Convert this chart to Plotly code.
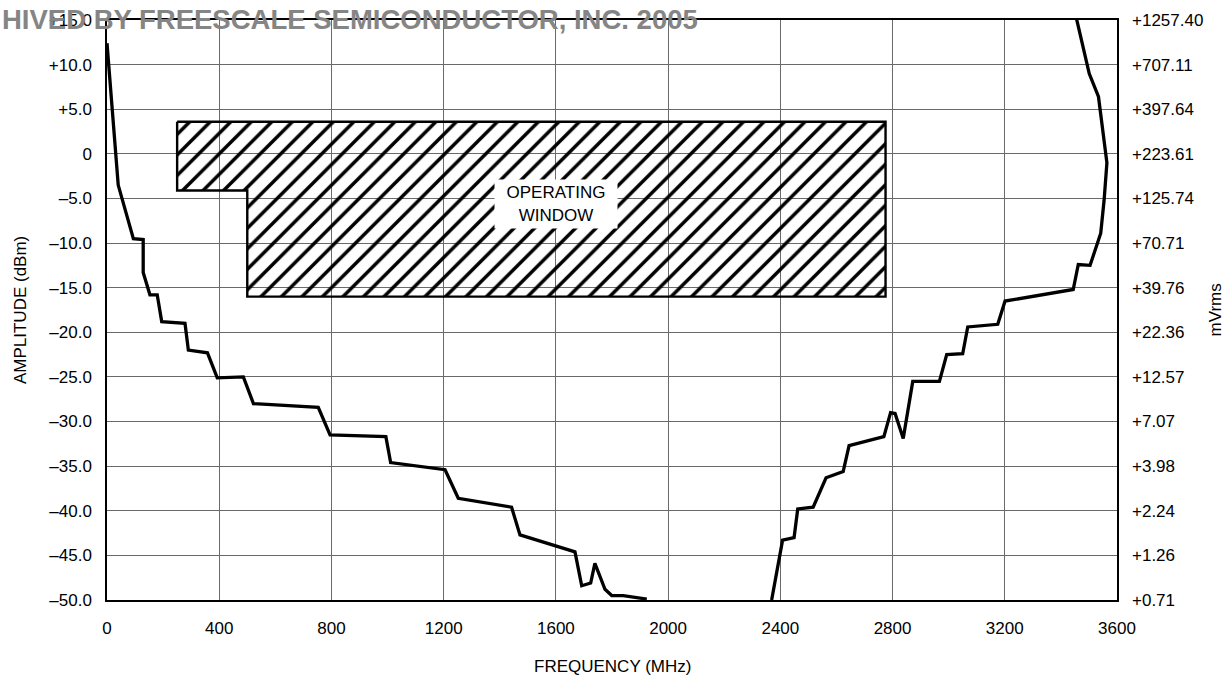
import plotly.graph_objects as go

# ---- data ----
freq_ticks = [0, 400, 800, 1200, 1600, 2000, 2400, 2800, 3200, 3600]
dbm_ticks = [15, 10, 5, 0, -5, -10, -15, -20, -25, -30, -35, -40, -45, -50]
dbm_labels = ["+15.0", "+10.0", "+5.0", "0", "–5.0", "–10.0", "–15.0", "–20.0",
              "–25.0", "–30.0", "–35.0", "–40.0", "–45.0", "–50.0"]
mv_labels = ["+1257.40", "+707.11", "+397.64", "+223.61", "+125.74", "+70.71",
             "+39.76", "+22.36", "+12.57", "+7.07", "+3.98", "+2.24", "+1.26", "+0.71"]

low_freq = [0, 40, 94, 129, 129, 153, 179, 195, 278, 290, 358, 393, 486, 522, 753,
            795, 994, 1011, 1205, 1252, 1442, 1472, 1668, 1692, 1724, 1739, 1775,
            1799, 1840, 1924]
low_dbm = [12.4, -3.5, -9.5, -9.6, -13.3, -15.8, -15.8, -18.8, -19.0, -22.0, -22.3,
           -25.1, -25.0, -28.0, -28.4, -31.5, -31.7, -34.6, -35.4, -38.6, -39.6,
           -42.7, -44.6, -48.4, -48.1, -45.9, -48.8, -49.5, -49.5, -49.9]

high_freq = [2369, 2408, 2449, 2462, 2517, 2563, 2624, 2645, 2769, 2793, 2809, 2838,
             2872, 2967, 2993, 3050, 3068, 3175, 3201, 3444, 3462, 3504, 3542, 3554,
             3564, 3534, 3501, 3456]
high_dbm = [-50.0, -43.3, -43.0, -39.8, -39.6, -36.3, -35.6, -32.7, -31.7, -29.0,
            -29.1, -31.9, -25.5, -25.5, -22.5, -22.4, -19.4, -19.1, -16.5, -15.2,
            -12.4, -12.5, -8.9, -5.2, -1.0, 6.4, 9.0, 15.1]

window_freq = [250, 2775, 2775, 500, 500, 250, 250]
window_dbm = [3.6, 3.6, -16.0, -16.0, -4.1, -4.1, 3.6]

FONT = "Liberation Sans, Arial, Helvetica, sans-serif"

fig = go.Figure()

fig.add_trace(go.Scatter(
    x=window_freq, y=window_dbm, mode="lines", fill="toself",
    fillcolor="rgba(0,0,0,0)",
    fillpattern=dict(shape="/", fgcolor="black", bgcolor="rgba(0,0,0,0)",
                     size=14.5, solidity=0.24, fillmode="replace"),
    line=dict(color="black", width=2.4), hoverinfo="skip", showlegend=False))

fig.add_trace(go.Scatter(x=low_freq, y=low_dbm, mode="lines",
                         line=dict(color="black", width=3.3), showlegend=False))
fig.add_trace(go.Scatter(x=high_freq, y=high_dbm, mode="lines",
                         line=dict(color="black", width=3.3), showlegend=False))

fig.update_layout(
    width=1225, height=676,
    margin=dict(l=107, r=108, t=20, b=76),
    paper_bgcolor="white", plot_bgcolor="white",
    font=dict(family=FONT, size=17, color="black"),
    xaxis=dict(range=[0, 3600], tickvals=freq_ticks, ticktext=[str(v) for v in freq_ticks],
               showgrid=True, gridcolor="#6a6a6a", gridwidth=1,
               showline=True, linecolor="black", linewidth=1.5, mirror=True,
               zeroline=False, ticks="", ticklabelstandoff=12, fixedrange=True),
    yaxis=dict(range=[-50, 15], tickvals=dbm_ticks, ticktext=dbm_labels,
               showgrid=True, gridcolor="#6a6a6a", gridwidth=1,
               showline=True, linecolor="black", linewidth=1.5, mirror=True,
               zeroline=False, ticks="", ticklabelstandoff=10, fixedrange=True),
    yaxis2=dict(range=[-50, 15], tickvals=dbm_ticks, ticktext=mv_labels,
                overlaying="y", side="right", showgrid=False, zeroline=False,
                showline=False, ticks="", ticklabelstandoff=14, fixedrange=True),
    annotations=[
        dict(text="OPERATING<br>WINDOW", x=1600, y=-5.6, xref="x", yref="y",
             showarrow=False, bgcolor="white", width=122, height=48, borderpad=0,
             font=dict(size=17, family=FONT)),
        dict(text="FREQUENCY (MHz)", x=0.5, y=-0.114, xref="paper", yref="paper",
             xanchor="center", yanchor="middle", showarrow=False,
             font=dict(size=17, family=FONT)),
        dict(text="AMPLITUDE (dBm)", x=-0.0861, y=0.5, xref="paper", yref="paper",
             xanchor="center", yanchor="middle", textangle=-90, showarrow=False,
             font=dict(size=17, family=FONT)),
        dict(text="mVrms", x=1.0975, y=0.5, xref="paper", yref="paper",
             xanchor="center", yanchor="middle", textangle=-90, showarrow=False,
             font=dict(size=17, family=FONT)),
        dict(text="<b>HIVED BY FREESCALE SEMICONDUCTOR, INC. 2005</b>",
             x=-0.10594, y=1.0017, xref="paper", yref="paper",
             xanchor="left", yanchor="middle", showarrow=False,
             font=dict(size=27.5, family=FONT, color="#858585")),
    ],
)

fig.add_trace(go.Scatter(x=[None], y=[None], yaxis="y2", showlegend=False, hoverinfo="skip"))

fig.write_html("out.html", config={"displayModeBar": False},
               post_script="document.body.style.margin='0';document.body.style.padding='0';")
